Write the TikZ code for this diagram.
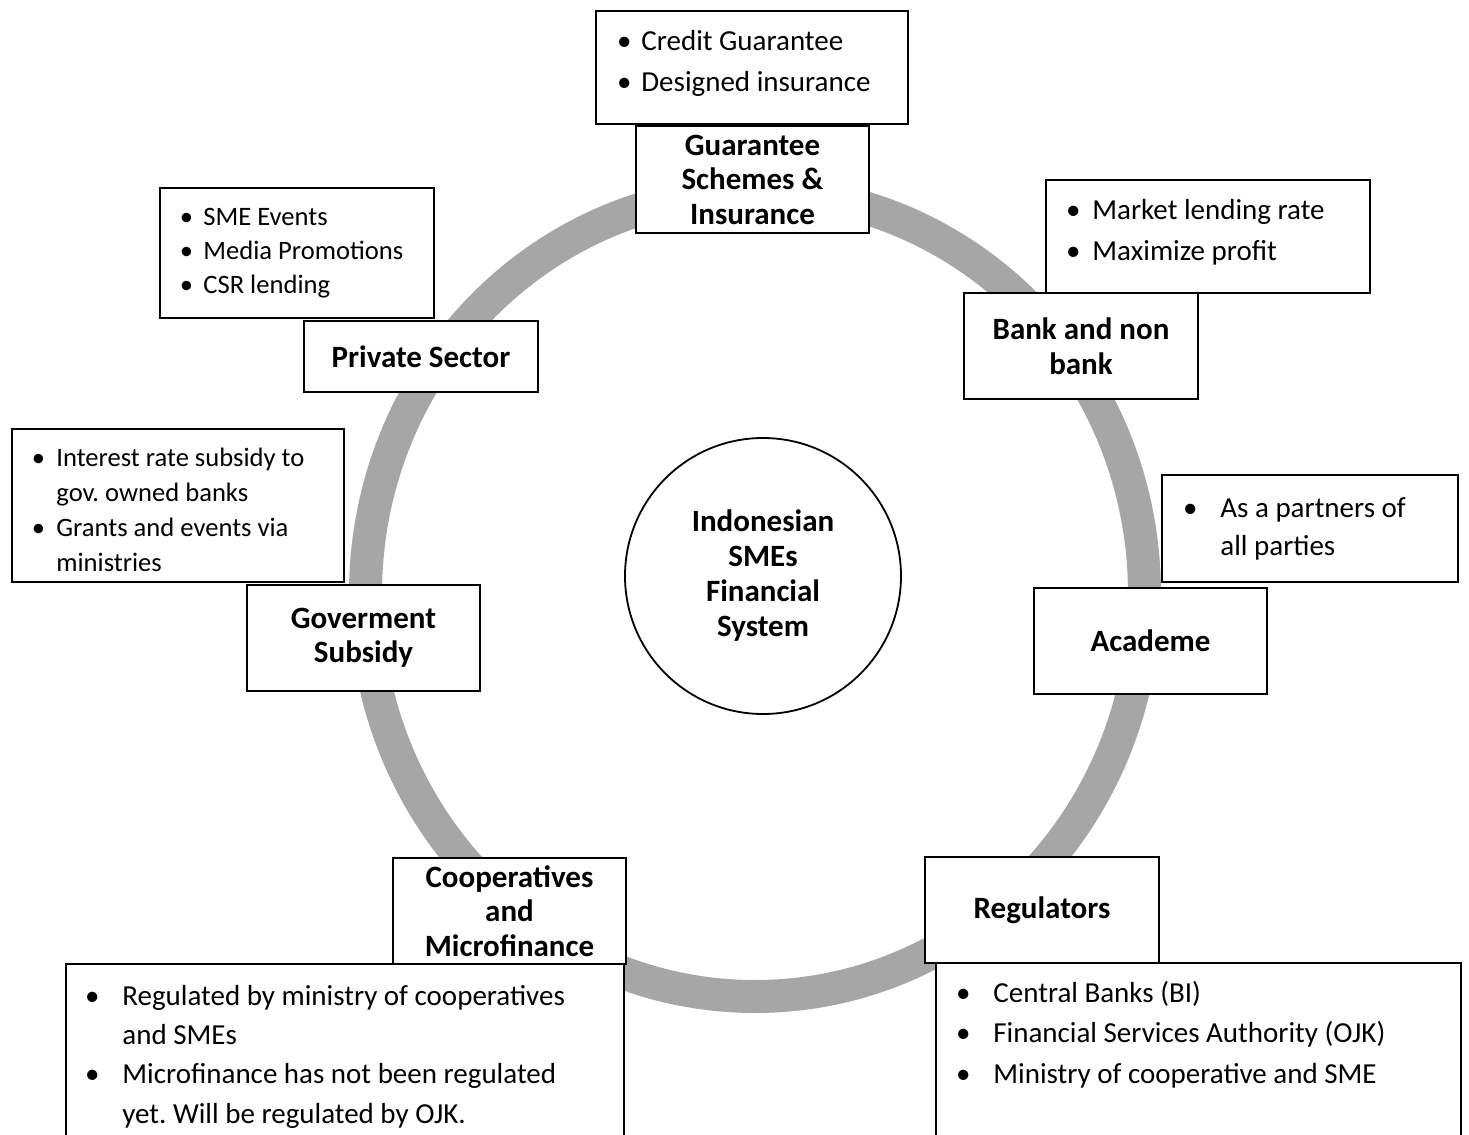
\documentclass[tikz,border=0pt]{standalone}
\usepackage{fontspec}
\setmainfont{Carlito}
\usepackage{xcolor}
\definecolor{ringgray}{RGB}{166,166,166}
\frenchspacing

% one unit of the picture = one pixel of the layout
\newdimen\pxu
\pxu=0.5pt
\newcommand{\bul}[1]{\hspace*{-#1}\makebox[0pt]{\textbullet}\hspace*{#1}}

\begin{document}
\begin{tikzpicture}[x=0.5pt, y=-0.5pt]

    % Styles
    \tikzset{
        ring/.style={draw=ringgray, line width=16.5pt},
        hub/.style={circle, draw=black, line width=0.9pt, fill=white, minimum size=276\pxu, inner sep=0pt,
            align=center, font=\fontsize{15.5}{17.5}\selectfont\bfseries},
        actor/.style={draw=black, line width=1pt, fill=white, inner sep=0pt, align=center,
            font=\fontsize{15.5}{17.25}\selectfont\bfseries},
        listbox/.style={draw=black, line width=0.6pt, fill=white, inner sep=0pt},
        listtext/.style={anchor=base west, align=left, inner sep=0pt}
    }

    % Frame
    \useasboundingbox (0,0) rectangle (1469,1135);
    \clip (0,0) rectangle (1469,1135);

    % Ring
    \draw[ring] (755,594) ellipse [x radius=389.5, y radius=402.5];

    % Centre
    \node[hub] (hub) at (763,576) {Indonesian\\SMEs\\Financial\\System};

    % Bullet boxes
    \node[listbox, minimum width=312\pxu, minimum height=113\pxu] (guarlist) at (752,67.5) {};
    \node[listbox, minimum width=274\pxu, minimum height=130\pxu] (privlist) at (297,253) {};
    \node[listbox, minimum width=324\pxu, minimum height=113\pxu] (banklist) at (1208,236.5) {};
    \node[listbox, minimum width=332\pxu, minimum height=153\pxu] (govlist) at (178,505.5) {};
    \node[listbox, minimum width=296\pxu, minimum height=107\pxu] (acadlist) at (1310,528.5) {};
    \node[listbox, minimum width=558\pxu, minimum height=186\pxu] (cooplist) at (345,1057) {};
    \node[listbox, minimum width=525\pxu, minimum height=187\pxu] (reglist) at (1198.5,1056.5) {};

    % Bullet texts (placed at the baseline of their last line)
    \node[listtext, font=\fontsize{14.5}{20.5}\selectfont] (guartext) at (641,91)
        {\bul{17\pxu}Credit Guarantee\\\bul{17\pxu}Designed insurance};
    \node[listtext, font=\fontsize{13.3}{17}\selectfont] (privtext) at (203,293.5)
        {\bul{17\pxu}SME Events\\\bul{17\pxu}Media Promotions\\\bul{17\pxu}CSR lending};
    \node[listtext, font=\fontsize{14.5}{20.5}\selectfont] (banktext) at (1092,260)
        {\bul{19\pxu}Market lending rate\\\bul{19\pxu}Maximize profit};
    \node[listtext, font=\fontsize{13.3}{17.5}\selectfont] (govtext) at (56,571.5)
        {\bul{18\pxu}Interest rate subsidy to\\gov. owned banks\\\bul{18\pxu}Grants and events via\\ministries};
    \node[listtext, font=\fontsize{14.5}{19}\selectfont] (acadtext) at (1220,555)
        {\bul{30\pxu}As a partners of\\all parties};
    \node[listtext, font=\fontsize{14.5}{19.6}\selectfont] (cooptext) at (122,1123)
        {\bul{30\pxu}Regulated by ministry of cooperatives\\and SMEs\\\bul{30\pxu}Microfinance has not been regulated\\yet. Will be regulated by OJK.};
    \node[listtext, font=\fontsize{14.5}{20.25}\selectfont] (regtext) at (993,1083)
        {\bul{30\pxu}Central Banks (BI)\\\bul{30\pxu}Financial Services Authority (OJK)\\\bul{30\pxu}Ministry of cooperative and SME};

    % Actors
    \node[actor, minimum width=233\pxu, minimum height=107\pxu] (guar) at (752.5,179.5) {Guarantee\\Schemes \&\\Insurance};
    \node[actor, minimum width=234\pxu, minimum height=71\pxu] (priv) at (421,356.5) {Private Sector};
    \node[actor, minimum width=234\pxu, minimum height=106\pxu] (bank) at (1081,346) {Bank and non\\bank};
    \node[actor, minimum width=233\pxu, minimum height=106\pxu] (gov) at (363.5,638) {Goverment\\Subsidy};
    \node[actor, minimum width=233\pxu, minimum height=106\pxu] (acad) at (1150.5,641) {Academe};
    \node[actor, minimum width=233\pxu, minimum height=106\pxu] (coop) at (509.5,911) {Cooperatives\\and\\Microfinance};
    \node[actor, minimum width=234\pxu, minimum height=106\pxu] (reg) at (1042,910) {Regulators};

\end{tikzpicture}
\end{document}
